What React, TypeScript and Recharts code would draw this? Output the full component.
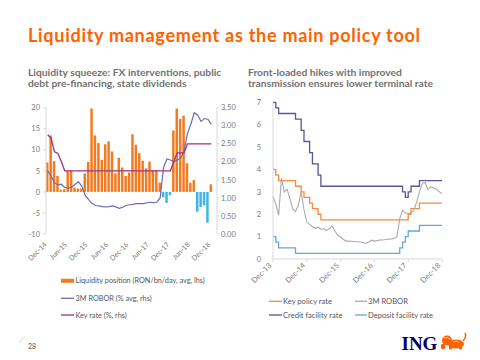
import React from "react";
import { ComposedChart, LineChart, Bar, Line, XAxis, YAxis, Cell } from "recharts";

// ---------- Left chart data (monthly, Dec-14 .. Dec-18) ----------
const leftMonths = [
  "Dec-14", "Jan-15", "Feb-15", "Mar-15", "Apr-15", "May-15", "Jun-15", "Jul-15", "Aug-15", "Sep-15", "Oct-15", "Nov-15",
  "Dec-15", "Jan-16", "Feb-16", "Mar-16", "Apr-16", "May-16", "Jun-16", "Jul-16", "Aug-16", "Sep-16", "Oct-16", "Nov-16",
  "Dec-16", "Jan-17", "Feb-17", "Mar-17", "Apr-17", "May-17", "Jun-17", "Jul-17", "Aug-17", "Sep-17", "Oct-17", "Nov-17",
  "Dec-17", "Jan-18", "Feb-18", "Mar-18", "Apr-18", "May-18", "Jun-18", "Jul-18", "Aug-18", "Sep-18", "Oct-18", "Nov-18",
  "Dec-18",
];
const liquidity = [
  7.0, 13.4, 7.3, 3.8, 0.5, 0.6, 5.0, 5.0, 1.0, 0.8, 0.8, 4.4,
  7.1, 19.8, 13.4, 11.6, 7.6, 11.3, 12.0, 9.6, 4.4, 8.1, 5.8, 3.8,
  4.6, 13.7, 11.2, 9.2, 7.4, 5.6, 7.2, 5.1, 5.1, 2.2, -1.3, -2.6,
  -0.8, 14.6, 19.8, 17.3, 18.1, 6.8, 2.2, 2.8, -4.7, -3.6, -3.2, -7.3,
  1.8,
];
const robor3mLeft = [
  1.75, 1.6, 1.42, 1.36, 1.38, 1.29, 1.27, 1.3, 1.37, 1.45, 1.33, 1.07,
  0.95, 0.85, 0.79, 0.78, 0.76, 0.75, 0.76, 0.78, 0.75, 0.71, 0.74, 0.79,
  0.81, 0.82, 0.84, 0.84, 0.84, 0.86, 0.88, 0.87, 0.88, 1.0, 1.85, 2.08,
  2.05, 2.0, 2.05, 2.1, 2.3, 2.78, 3.05, 3.36, 3.3, 3.12, 3.2, 3.18,
  3.04,
];
const keyRateLeft = [
  2.75, 2.65, 2.28, 2.23, 2.0, 1.75, 1.75, 1.75, 1.75, 1.75, 1.75, 1.75,
  1.75, 1.75, 1.75, 1.75, 1.75, 1.75, 1.75, 1.75, 1.75, 1.75, 1.75, 1.75,
  1.75, 1.75, 1.75, 1.75, 1.75, 1.75, 1.75, 1.75, 1.75, 1.75, 1.75, 1.75,
  1.75, 2.0, 2.25, 2.25, 2.25, 2.5, 2.5, 2.5, 2.5, 2.5, 2.5, 2.5,
  2.5,
];
const leftTickLabels = ["Dec-14", "Jun-15", "Dec-15", "Jun-16", "Dec-16", "Jun-17", "Dec-17", "Jun-18", "Dec-18"];
const leftLhsTicks = [-10, -5, 0, 5, 10, 15, 20];
const leftRhsTicks = [0, 0.5, 1, 1.5, 2, 2.5, 3, 3.5];

// ---------- Right chart data (monthly, Dec-13 .. Dec-18) ----------
const rightMonths = [
  "Dec-13",
  "Jan-14", "Feb-14", "Mar-14", "Apr-14", "May-14", "Jun-14", "Jul-14", "Aug-14", "Sep-14", "Oct-14", "Nov-14", "Dec-14",
  "Jan-15", "Feb-15", "Mar-15", "Apr-15", "May-15", "Jun-15", "Jul-15", "Aug-15", "Sep-15", "Oct-15", "Nov-15", "Dec-15",
  "Jan-16", "Feb-16", "Mar-16", "Apr-16", "May-16", "Jun-16", "Jul-16", "Aug-16", "Sep-16", "Oct-16", "Nov-16", "Dec-16",
  "Jan-17", "Feb-17", "Mar-17", "Apr-17", "May-17", "Jun-17", "Jul-17", "Aug-17", "Sep-17", "Oct-17", "Nov-17", "Dec-17",
  "Jan-18", "Feb-18", "Mar-18", "Apr-18", "May-18", "Jun-18", "Jul-18", "Aug-18", "Sep-18", "Oct-18", "Nov-18", "Dec-18",
];
const keyPolicyRate = [
  4.0,
  3.75, 3.5, 3.5, 3.5, 3.5, 3.5, 3.5, 3.25, 3.25, 3.0, 2.75, 2.75,
  2.5, 2.25, 2.25, 2.0, 1.75, 1.75, 1.75, 1.75, 1.75, 1.75, 1.75, 1.75,
  1.75, 1.75, 1.75, 1.75, 1.75, 1.75, 1.75, 1.75, 1.75, 1.75, 1.75, 1.75,
  1.75, 1.75, 1.75, 1.75, 1.75, 1.75, 1.75, 1.75, 1.75, 1.75, 1.75, 2.0,
  2.25, 2.25, 2.25, 2.5, 2.5, 2.5, 2.5, 2.5, 2.5, 2.5, 2.5, 2.5,
];
const robor3mRight = [
  2.78,
  2.45, 1.95, 3.6, 3.0, 3.12, 2.7, 2.25, 2.12, 2.4, 3.0, 2.2, 1.65,
  1.55, 1.44, 1.37, 1.42, 1.32, 1.36, 1.28, 1.35, 1.48, 1.25, 1.05, 0.98,
  0.87, 0.8, 0.8, 0.79, 0.78, 0.77, 0.76, 0.74, 0.7, 0.76, 0.84, 0.8,
  0.82, 0.85, 0.85, 0.87, 0.89, 0.9, 0.92, 1.0, 1.8, 2.18, 2.05, 2.02,
  2.08, 2.15, 2.55, 3.0, 3.38, 3.42, 3.1, 3.22, 3.18, 3.12, 3.0, 2.93,
];
const creditFacilityRate = [
  7.0,
  6.75, 6.5, 6.5, 6.5, 6.5, 6.5, 6.5, 6.25, 6.25, 5.75, 5.25, 5.25,
  4.75, 4.25, 4.25, 3.75, 3.25, 3.25, 3.25, 3.25, 3.25, 3.25, 3.25, 3.25,
  3.25, 3.25, 3.25, 3.25, 3.25, 3.25, 3.25, 3.25, 3.25, 3.25, 3.25, 3.25,
  3.25, 3.25, 3.25, 3.25, 3.25, 3.25, 3.25, 3.25, 3.25, 3.0, 2.75, 3.0,
  3.25, 3.25, 3.25, 3.5, 3.5, 3.5, 3.5, 3.5, 3.5, 3.5, 3.5, 3.5,
];
const depositFacilityRate = [
  1.0,
  0.75, 0.5, 0.5, 0.5, 0.5, 0.5, 0.5, 0.25, 0.25, 0.25, 0.25, 0.25,
  0.25, 0.25, 0.25, 0.25, 0.25, 0.25, 0.25, 0.25, 0.25, 0.25, 0.25, 0.25,
  0.25, 0.25, 0.25, 0.25, 0.25, 0.25, 0.25, 0.25, 0.25, 0.25, 0.25, 0.25,
  0.25, 0.25, 0.25, 0.25, 0.25, 0.25, 0.25, 0.25, 0.5, 0.75, 1.0, 1.25,
  1.25, 1.25, 1.25, 1.5, 1.5, 1.5, 1.5, 1.5, 1.5, 1.5, 1.5, 1.5,
];
const rightTickLabels = ["Dec-13", "Dec-14", "Dec-15", "Dec-16", "Dec-17", "Dec-18"];
const rightYTicks = [0, 1, 2, 3, 4, 5, 6, 7];

const leftData = leftMonths.map((m, i) => ({
  month: m,
  liq: liquidity[i],
  robor: robor3mLeft[i],
  key: keyRateLeft[i],
}));
const rightData = rightMonths.map((m, i) => ({
  month: m,
  policy: keyPolicyRate[i],
  robor: robor3mRight[i],
  credit: creditFacilityRate[i],
  deposit: depositFacilityRate[i],
}));

const ORANGE = "#FF6200";
const BAR_ORANGE = "#F47A20";
const BAR_BLUE = "#3DB6E2";
const ROBOR_L = "#6C6CB4";
const KEY_L = "#A3307E";
const R_ORANGE = "#F58A3C";
const R_GREY = "#ABABAB";
const R_PURPLE = "#56569E";
const R_BLUE = "#62A9DD";
const FONT = "Lato, 'Open Sans', sans-serif";
const TICK_FILL = "#7a7a7a";

function LeftXTick(props: any) {
  const { x, y, payload } = props;
  const ax = x - 0.5;
  const ay = y + 3;
  return (
    <text x={ax} y={ay} transform={`rotate(-45, ${ax}, ${ay})`} textAnchor="end" fontSize={7} fill={TICK_FILL} fontFamily={FONT}>
      {payload.value}
    </text>
  );
}

function RightXTick(props: any) {
  const { x, y, payload } = props;
  const ax = x - 1;
  const ay = y + 2;
  return (
    <text x={ax} y={ay} transform={`rotate(-45, ${ax}, ${ay})`} textAnchor="end" fontSize={7.5} fill={TICK_FILL} fontFamily={FONT}>
      {payload.value}
    </text>
  );
}

export default function App() {
  const tickStyle = { fontSize: 7.5, fill: TICK_FILL, fontFamily: FONT };
  return (
    <div style={{ position: "fixed", left: 0, top: 0, width: 480, height: 360, background: "#fff", overflow: "hidden" }}>
      {/* Left chart */}
      <div style={{ position: "absolute", left: 0, top: 95 }}>
        <ComposedChart width={262} height={175} data={leftData} margin={{ top: 12.7, right: 0, bottom: 0, left: 0 }} barSize={2.5}>
          <XAxis
            dataKey="month"
            ticks={leftTickLabels}
            interval={0}
            tick={<LeftXTick />}
            axisLine={false}
            tickLine={false}
            tickSize={6}
            height={36}
            padding={{ left: 0, right: 4 }}
          />
          <YAxis
            yAxisId="l"
            domain={[-10, 20]}
            ticks={leftLhsTicks}
            width={46}
            tick={tickStyle}
            axisLine={{ stroke: "#d9d9d9" }}
            tickLine={{ stroke: "#d9d9d9" }}
            tickSize={3}
            tickMargin={3}
          />
          <YAxis
            yAxisId="r"
            orientation="right"
            domain={[0, 3.5]}
            ticks={leftRhsTicks}
            width={45}
            tick={tickStyle}
            tickFormatter={(v: number) => v.toFixed(2)}
            axisLine={{ stroke: "#d9d9d9" }}
            tickLine={{ stroke: "#d9d9d9" }}
            tickSize={2}
            tickMargin={2}
          />
          <Bar yAxisId="l" dataKey="liq" isAnimationActive={false}>
            {leftData.map((d, i) => (
              <Cell key={i} fill={d.liq < 0 ? BAR_BLUE : BAR_ORANGE} />
            ))}
          </Bar>
          <Line yAxisId="r" dataKey="robor" type="linear" stroke={ROBOR_L} strokeWidth={1.2} dot={false} isAnimationActive={false} />
          <Line yAxisId="r" dataKey="key" type="linear" stroke={KEY_L} strokeWidth={1.3} dot={false} isAnimationActive={false} />
        </ComposedChart>
      </div>

      {/* Right chart */}
      <div style={{ position: "absolute", left: 240, top: 90 }}>
        <LineChart width={222} height={201} data={rightData} margin={{ top: 12.3, right: 20, bottom: 0, left: 0 }}>
          <XAxis
            dataKey="month"
            ticks={rightTickLabels}
            interval={0}
            tick={<RightXTick />}
            axisLine={{ stroke: "#d9d9d9" }}
            tickLine={{ stroke: "#d9d9d9" }}
            tickSize={3}
            height={32}
          />
          <YAxis
            domain={[0, 7]}
            ticks={rightYTicks}
            width={33}
            tick={tickStyle}
            axisLine={{ stroke: "#d9d9d9" }}
            tickLine={false}
            tickMargin={6}
          />
          <Line dataKey="credit" type="stepAfter" stroke={R_PURPLE} strokeWidth={1.3} dot={false} isAnimationActive={false} />
          <Line dataKey="policy" type="stepAfter" stroke={R_ORANGE} strokeWidth={1.3} dot={false} isAnimationActive={false} />
          <Line dataKey="deposit" type="stepAfter" stroke={R_BLUE} strokeWidth={1.3} dot={false} isAnimationActive={false} />
          <Line dataKey="robor" type="linear" stroke={R_GREY} strokeWidth={1.1} dot={false} isAnimationActive={false} />
        </LineChart>
      </div>

      {/* Texts, legends, logo */}
      <svg width={480} height={360} style={{ position: "absolute", left: 0, top: 0, pointerEvents: "none" }}>
        <text x={28} y={41.5} fontSize={18} fontWeight={700} fill={ORANGE} fontFamily={FONT} letterSpacing={0.72}>
          Liquidity management as the main policy tool
        </text>
        <g fontSize={10.3} fill="#727272" fontFamily={FONT} fontWeight={700}>
          <text x={28} y={75.5}>Liquidity squeeze: FX interventions, public</text>
          <text x={28} y={87}>debt pre-financing, state dividends</text>
          <text x={248} y={75.5}>Front-loaded hikes with improved</text>
          <text x={248} y={87}>transmission ensures lower terminal rate</text>
        </g>

        {/* Left legend */}
        <g fontSize={7.3} fill="#555" fontFamily={FONT}>
          <rect x={61} y={278.8} width={13} height={4} fill={BAR_ORANGE} />
          <text x={75.5} y={283.3}>Liquidity position (RON/bn/day, avg, lhs)</text>
          <line x1={61} x2={74} y1={298.3} y2={298.3} stroke={ROBOR_L} strokeWidth={1.3} />
          <text x={75.5} y={300.8}>3M ROBOR (% avg, rhs)</text>
          <line x1={61} x2={74} y1={315} y2={315} stroke={KEY_L} strokeWidth={1.3} />
          <text x={75.5} y={317.5}>Key rate (%, rhs)</text>
        </g>

        {/* Right legend */}
        <g fontSize={7.6} fill="#555" fontFamily={FONT}>
          <line x1={269} x2={282} y1={301.3} y2={301.3} stroke={R_ORANGE} strokeWidth={1.3} />
          <text x={283} y={304}>Key policy rate</text>
          <line x1={355} x2={367} y1={301.3} y2={301.3} stroke={R_GREY} strokeWidth={1.3} />
          <text x={368} y={304}>3M ROBOR</text>
          <line x1={269} x2={282} y1={315} y2={315} stroke={R_PURPLE} strokeWidth={1.3} />
          <text x={283} y={317.7}>Credit facility rate</text>
          <line x1={355} x2={367} y1={315} y2={315} stroke={R_BLUE} strokeWidth={1.3} />
          <text x={368} y={317.7}>Deposit facility rate</text>
        </g>

        {/* page number */}
        <path d="M 20 343 Q 21 338 25 337" stroke="#cccccc" strokeWidth={0.8} fill="none" />
        <text x={28} y={349} fontSize={7} fill="#555" fontFamily={FONT}>28</text>

        {/* ING logo */}
        <text x={401.5} y={350} fontSize={19} fontWeight={700} fill="#000066" fontFamily="'Liberation Serif', 'DejaVu Serif', serif">
          ING
        </text>
        <g fill={ORANGE}>
          <circle cx={447} cy={340.5} r={5} />
          <ellipse cx={456} cy={344} rx={8} ry={4.5} />
          <rect x={441} y={344} width={4} height={5} rx={1} />
          <rect x={449} y={345} width={3} height={4.5} rx={1} />
          <rect x={459} y={345} width={3} height={4.5} rx={1} />
          <path d="M 463 341 Q 467 336 465 333" stroke={ORANGE} strokeWidth={1.5} fill="none" />
        </g>
        <g stroke="#fff" strokeWidth={0.6} fill="none">
          <path d="M 444 338 Q 447 336 450 339" />
          <path d="M 453 342 Q 456 340 459 342" />
        </g>
      </svg>
    </div>
  );
}
